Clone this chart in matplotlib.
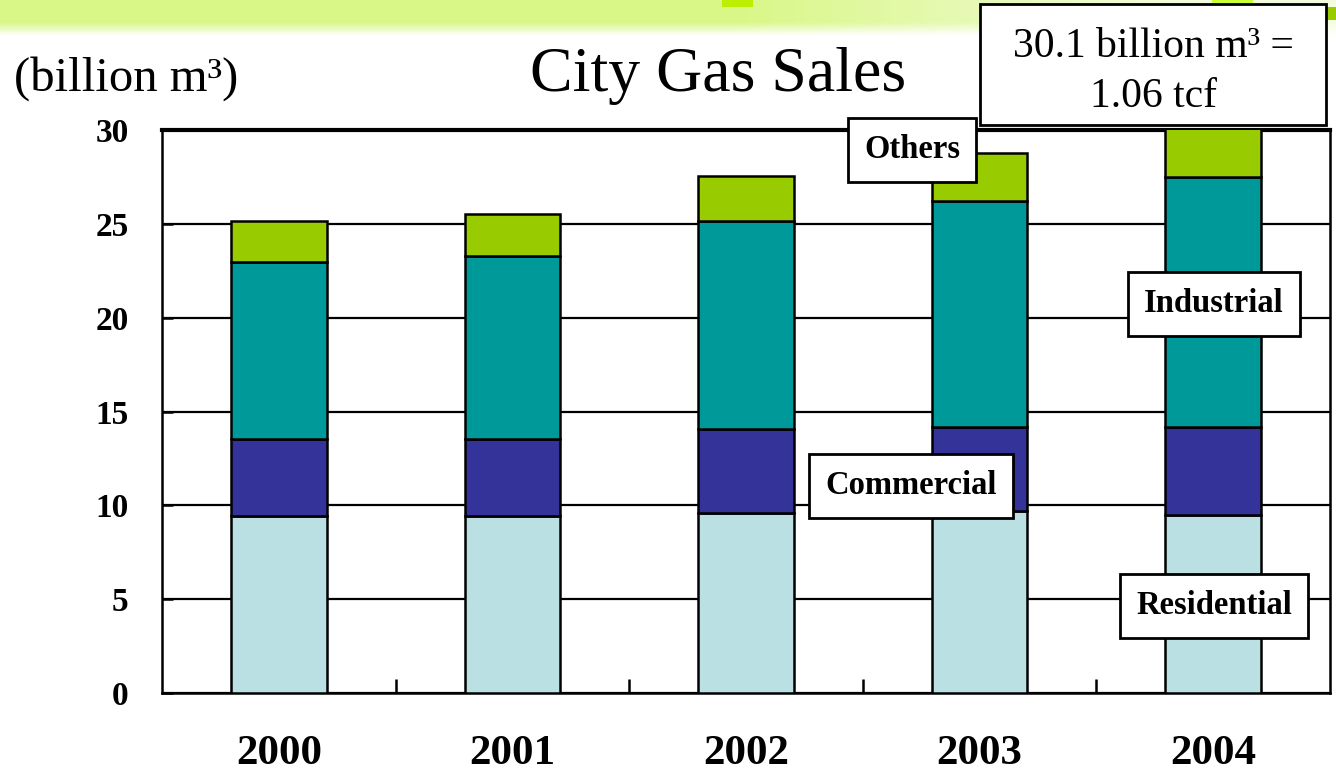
import numpy as np
import matplotlib
matplotlib.use("Agg")
import matplotlib.pyplot as plt
from matplotlib.patches import Rectangle

# values (billion m3)
years = ["2000", "2001", "2002", "2003", "2004"]
residential = [9.45, 9.45, 9.6, 9.7, 9.5]
commercial = [4.1, 4.1, 4.45, 4.5, 4.7]
industrial = [9.4, 9.75, 11.1, 12.0, 13.3]
others = [2.2, 2.2, 2.4, 2.55, 2.6]

series = [
    ("Residential", residential, "#BBE0E3"),
    ("Commercial", commercial, "#333399"),
    ("Industrial", industrial, "#009999"),
    ("Others", others, "#99CC00"),
]

SERIF = "Liberation Serif"
W, H = 1336, 774

fig = plt.figure(figsize=(W / 100, H / 100), dpi=100)
fig.patch.set_facecolor("white")

def fx(px):
    return px / W

def fy(py):
    return 1 - py / H

# slide header band (decoration)
band = fig.add_axes([0, fy(36), 1, 36 / H])
band.axis("off")
xs = np.linspace(0, 1, 400)
ys = np.linspace(0, 1, 40)
left_col = np.array([0.85, 0.97, 0.53])
right_col = np.array([0.96, 0.99, 0.88])
hmix = np.clip((xs - 0.55) / 0.35, 0, 1)[None, :, None]
row = left_col * (1 - hmix) + right_col * hmix
vfade = np.clip((ys - 0.62) / 0.38, 0, 1)[:, None, None]
img = row * (1 - vfade) + np.ones(3) * vfade
band.imshow(img, aspect="auto", extent=[0, 1, 0, 1], origin="upper")
band.set_xlim(0, 1)
band.set_ylim(0, 1)
for x0, x1, y0, y1, c in [(722, 753, 0, 7, "#BBEE00"),
                          (1212, 1253, 0, 20, "#CCFF33"),
                          (1313, 1336, 7, 20, "#99CC00")]:
    fig.patches.append(Rectangle((fx(x0), fy(y1)), fx(x1 - x0), (y1 - y0) / H,
                                 transform=fig.transFigure, facecolor=c,
                                 edgecolor="none", zorder=3))

ax = fig.add_axes([fx(162), fy(693), fx(1330 - 162), (693 - 130) / H])
x = np.arange(len(years))
bottom = np.zeros(len(years))
for name, vals, col in series:
    ax.bar(x, vals, width=0.41, bottom=bottom, color=col, edgecolor="black",
           linewidth=1.8, zorder=3)
    bottom += np.array(vals)

ax.set_xlim(-0.5, len(years) - 0.5)
ax.set_ylim(0, 30)
ax.set_yticks(range(0, 31, 5))
ax.yaxis.grid(True, color="black", linewidth=1.6, zorder=0)
ax.set_axisbelow(True)
for s in ax.spines.values():
    s.set_linewidth(1.8)
    s.set_color("black")
ax.spines["top"].set_linewidth(3)

ax.set_xticks(x)
ax.set_xticklabels(years, fontfamily=SERIF, fontweight="bold", fontsize=31)
ax.set_xticks(np.arange(0.5, len(years) - 1, 1), minor=True)
ax.tick_params(axis="x", which="major", length=0, pad=30)
ax.tick_params(axis="x", which="minor", direction="in", length=10, width=1.8)
ax.tick_params(axis="y", direction="in", length=8, width=1.8, pad=24)
for lab in ax.get_yticklabels():
    lab.set_fontfamily(SERIF)
    lab.set_fontweight("bold")
    lab.set_fontsize(24)

# titles
fig.text(fx(718), fy(76), "City Gas Sales", fontfamily=SERIF, fontsize=46,
         ha="center", va="center")
fig.text(fx(14), fy(79), "(billion m³)", fontfamily=SERIF, fontsize=35,
         ha="left", va="center")

# conversion note
fig.patches.append(Rectangle((fx(980), fy(125)), fx(1326 - 980), 121 / H,
                             transform=fig.transFigure, facecolor="white",
                             edgecolor="black", linewidth=2, zorder=5))
fig.text(fx(1153), fy(47), "30.1 billion m³ =", fontfamily=SERIF, fontsize=30,
         ha="center", va="center", zorder=6)
fig.text(fx(1153), fy(97), "1.06 tcf", fontfamily=SERIF, fontsize=30,
         ha="center", va="center", zorder=6)

# series labels in boxes
labels = [("Others", 912, 150), ("Industrial", 1214, 304),
          ("Commercial", 911, 486), ("Residential", 1214, 606)]
for txt, px, py in labels:
    fig.text(fx(px), fy(py), txt, fontfamily=SERIF, fontweight="bold",
             fontsize=23.5, ha="center", va="center", zorder=7,
             bbox=dict(boxstyle="square,pad=0.5", facecolor="white",
                       edgecolor="black", linewidth=2))

fig.savefig("out.png", dpi=100)
